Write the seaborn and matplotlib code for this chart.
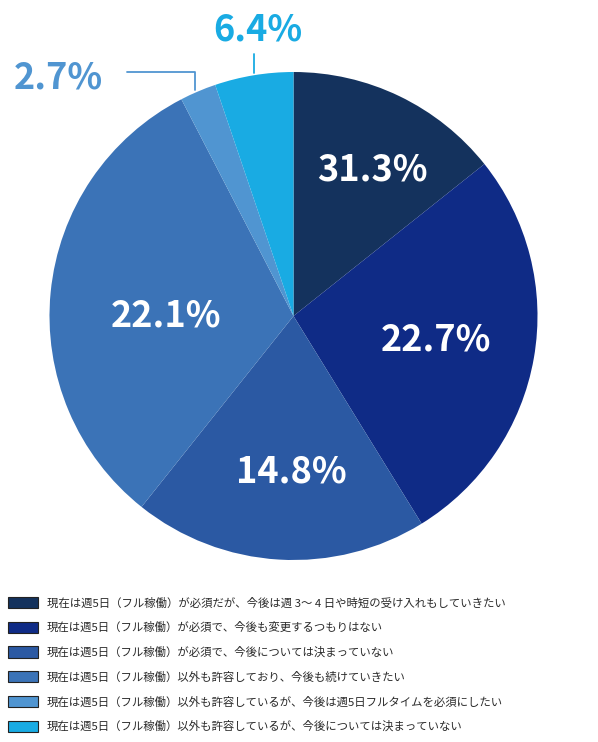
import matplotlib
matplotlib.use("Agg")
import matplotlib.pyplot as plt
import seaborn as sns
from matplotlib.patches import Patch

sns.set_theme(style="white")
plt.rcParams['font.family'] = ['Noto Sans CJK JP', 'DejaVu Sans']

# data
labels = [
    "現在は週5日（フル稼働）が必須だが、今後は週 3〜 4 日や時短の受け入れもしていきたい",
    "現在は週5日（フル稼働）が必須で、今後も変更するつもりはない",
    "現在は週5日（フル稼働）が必須で、今後については決まっていない",
    "現在は週5日（フル稼働）以外も許容しており、今後も続けていきたい",
    "現在は週5日（フル稼働）以外も許容しているが、今後は週5日フルタイムを必須にしたい",
    "現在は週5日（フル稼働）以外も許容しているが、今後については決まっていない",
]
pct_labels = [31.3, 22.7, 14.8, 22.1, 2.7, 6.4]   # printed labels
wedge_share = [14.3, 26.9, 19.5, 31.7, 2.4, 5.2]   # wedge sizes as drawn in the picture
colors = ["#14325d", "#0f2b86", "#2b59a3", "#3b73b7", "#5095d1", "#19abe3"]

W, H = 598, 742
fig = plt.figure(figsize=(W / 100, H / 100), dpi=100)
ax = fig.add_axes([0, 0, 1, 1])

cx, cy, r = 293.5, H - 316, 244
ax.pie(wedge_share, colors=colors, startangle=90, counterclock=False,
       center=(cx, cy), radius=r, frame=True,
       wedgeprops=dict(linewidth=0, edgecolor="none"))
ax.set_xlim(0, W)
ax.set_ylim(0, H)
ax.set_aspect('equal')
ax.axis('off')

# inside labels (pixel positions from top)
inner_pos = [(372, 170), (436, 340), (291, 472), (166, 316)]
for v, (x, y) in zip(pct_labels[:4], inner_pos):
    ax.text(x, H - y, f"{v}%", color="white", fontsize=26, fontweight="bold",
            ha="center", va="center")

# outside labels with leader lines
ax.text(58, H - 78, f"{pct_labels[4]}%", color=colors[4], fontsize=26,
        fontweight="bold", ha="center", va="center")
ax.plot([127, 195, 195], [H - 72, H - 72, H - 90], color=colors[4], lw=1.3)
ax.text(258, H - 30, f"{pct_labels[5]}%", color=colors[5], fontsize=26,
        fontweight="bold", ha="center", va="center")
ax.plot([254, 254], [H - 54, H - 73], color=colors[5], lw=1.3)

handles = [Patch(facecolor=c, edgecolor="#222222", linewidth=0.8) for c in colors]
leg = ax.legend(handles, labels, loc="upper left", bbox_to_anchor=(0.0, 1 - 589 / H),
                frameon=False, fontsize=8.2, handlelength=2.6, handleheight=1.15,
                labelspacing=1.16, handletextpad=0.8, borderaxespad=0.3)
for t in leg.get_texts():
    t.set_color("#2a2a2a")

fig.savefig("out.png", dpi=100)
